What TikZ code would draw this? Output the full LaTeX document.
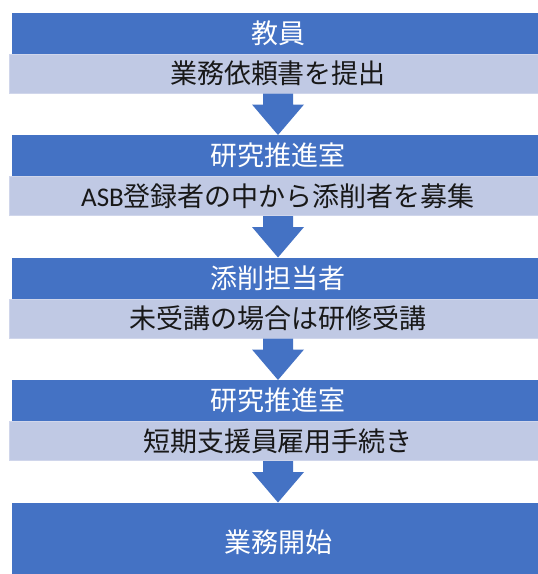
\documentclass[tikz,border=0pt]{standalone}
\usepackage{fontspec}
\newfontfamily\jp{Noto Sans CJK JP}
\newfontfamily\lat{Carlito}
\usetikzlibrary{calc}
\definecolor{darkc}{RGB}{68,114,196}
\definecolor{lightc}{RGB}{192,201,228}
\definecolor{lightedge}{RGB}{208,214,235}
\definecolor{textc}{RGB}{24,24,24}
\tikzset{
  titlebox/.style={rectangle, fill=darkc, minimum width=532pt, minimum height=41pt, inner sep=0pt,
    text=white, font=\jp\fontsize{27}{30}\selectfont, anchor=north},
  stepbox/.style={rectangle, fill=lightc, draw=lightedge, line width=1pt, minimum width=537pt,
    minimum height=39pt, inner sep=0pt, text=textc, font=\jp\fontsize{27}{30}\selectfont, anchor=north},
  blockarrow/.style={fill=darkc}
}
\newcommand\flowarrow[2]{%
  \fill[blockarrow] let \p1=(#1.south), \p2=(#2.north) in
    (\x1-15pt,\y1) -- (\x1+15pt,\y1) -- (\x1+15pt,\y1-11pt) -- (\x1+26pt,\y1-11pt)
    -- (\x1,\y2) -- (\x1-26pt,\y1-11pt) -- (\x1-15pt,\y1-11pt) -- cycle;}
\begin{document}
\begin{tikzpicture}[x=1pt,y=-1pt]
  \useasboundingbox (0,0) rectangle (538,574);
  \fill[white] (0,0) rectangle (538,574);
  % block 1
  \node[titlebox] (d1) at (278,12.5) {教員};
  \node[stepbox] (l1) at (278,53.5) {業務依頼書を提出};
  % block 2
  \node[titlebox] (d2) at (278,135) {研究推進室};
  \node[stepbox] (l2) at (278,176) {{\lat ASB}登録者の中から添削者を募集};
  % block 3
  \node[titlebox] (d3) at (278,257.5) {添削担当者};
  \node[stepbox] (l3) at (278,298.5) {未受講の場合は研修受講};
  % block 4
  \node[titlebox] (d4) at (278,380) {研究推進室};
  \node[stepbox] (l4) at (278,421) {短期支援員雇用手続き};
  % final
  \node[titlebox, minimum height=80pt] (d5) at (278,502.5) {業務開始};
  % arrows
  \flowarrow{l1}{d2}
  \flowarrow{l2}{d3}
  \flowarrow{l3}{d4}
  \flowarrow{l4}{d5}
\end{tikzpicture}
\end{document}
